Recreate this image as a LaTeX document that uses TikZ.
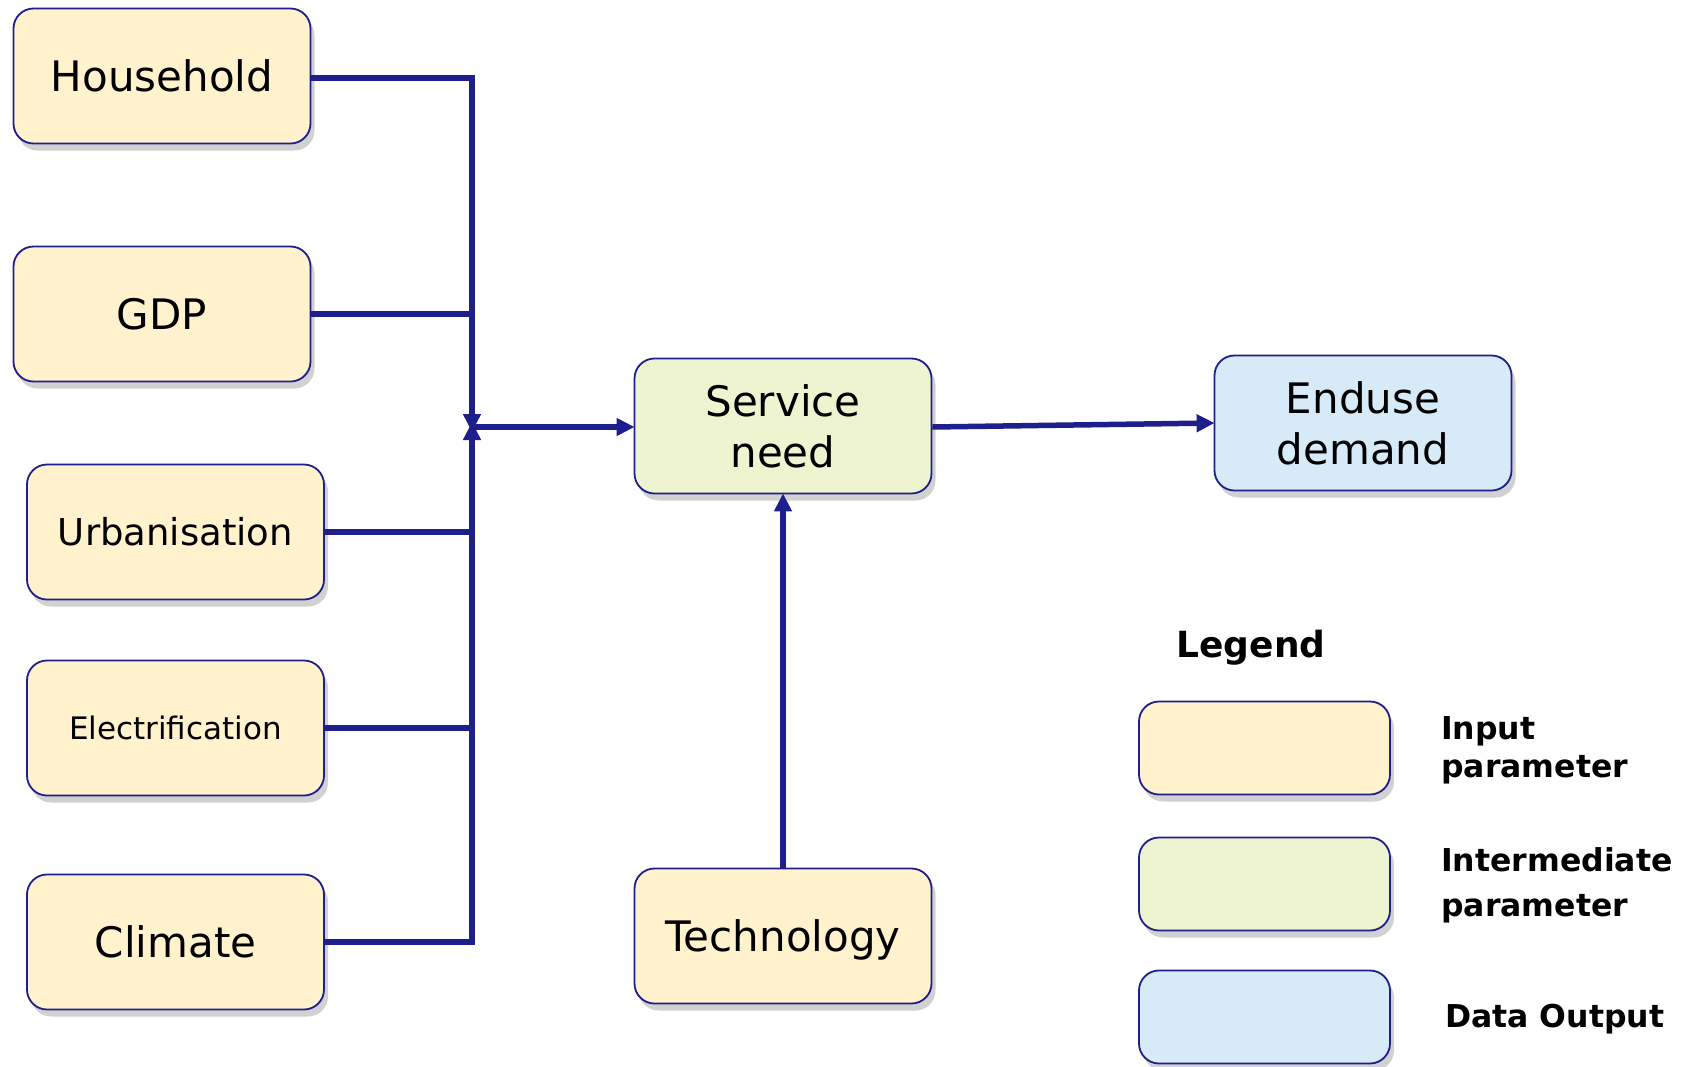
\documentclass[tikz,border=0pt]{standalone}
\usepackage{fontspec}
\setmainfont{DejaVu Sans}
\usetikzlibrary{arrows.meta,shadows}
\definecolor{navy}{HTML}{1E1E8C}
\definecolor{inputfill}{HTML}{FFF2CC}
\definecolor{interfill}{HTML}{EFF4D0}
\definecolor{outfill}{HTML}{D6EBF7}
\tikzset{
  boxbase/.style={draw=navy, line width=1.8pt, rounded corners=20pt, align=center,
    inner sep=0pt, minimum width=297pt, minimum height=135pt,
    drop shadow={shadow xshift=4pt, shadow yshift=-7pt, opacity=0.18, fill=black},
    font={\fontsize{42}{51}\selectfont}},
  inbox/.style={boxbase, fill=inputfill},
  interbox/.style={boxbase, fill=interfill},
  outbox/.style={boxbase, fill=outfill},
  legbox/.style={minimum width=251pt, minimum height=93pt},
  conn/.style={draw=navy, line width=5.5pt},
  arr/.style={conn, -{Triangle[length=18pt,width=17pt]}, shorten >=-1pt},
  legtext/.style={anchor=west, align=left, inner sep=0pt, font={\bfseries\fontsize{31.5}{38}\selectfont}}
}
\begin{document}
\begin{tikzpicture}[x=1pt,y=-1pt]
\useasboundingbox (0,0) rectangle (1698,1066);
% input nodes
\node[inbox] (hh) at (162,76) {\raisebox{-2pt}{Household}};
\node[inbox] (gdp) at (162,314) {GDP};
\node[inbox, font={\fontsize{37}{45}\selectfont}] (urb) at (175.5,532) {Urbanisation};
\node[inbox, font={\fontsize{31}{38}\selectfont}] (ele) at (175.5,728) {Electrification};
\node[inbox] (cli) at (175.5,942) {\raisebox{-2pt}{Climate}};
\node[interbox] (sn) at (783,426) {Service\\need};
\node[outbox] (ed) at (1363,423) {Enduse\\demand};
\node[inbox, text depth=0pt] (tech) at (783,936) {Technology};
% junction
\coordinate (j) at (472,427);
\coordinate (jt) at (472,78);
\coordinate (jb) at (472,942);
% connectors
\draw[arr] (hh.east |- jt) -- (jt) -- ([yshift=-4pt]j);
\draw[arr] (cli.east |- jb) -- (jb) -- ([yshift=4pt]j);
\draw[conn] (gdp.east) -- (gdp.east -| j);
\draw[conn] (urb.east) -- (urb.east -| j);
\draw[conn] (ele.east) -- (ele.east -| j);
\draw[arr] ([xshift=-2pt]j) -- (sn.west |- j);
\draw[arr] (sn.east |- j) -- (ed.west);
\draw[arr] (tech.north) -- (sn.south);
% legend
\node[font={\bfseries\fontsize{36}{43}\selectfont}, inner sep=0pt] (legt) at (1251,648) {Legend};
\node[inbox, legbox] (l1) at (1264.5,748) {};
\node[interbox, legbox] (l2) at (1264.5,884) {};
\node[outbox, legbox] (l3) at (1264.5,1017) {};
\node[legtext] (t1) at (1441,750.5) {Input\\parameter};
\node[legtext, font={\bfseries\fontsize{31.5}{45}\selectfont}] (t2) at (1441,885.5) {Intermediate\\parameter};
\node[legtext] (t3) at (1445,1019.5) {Data Output};
\end{tikzpicture}
\end{document}
